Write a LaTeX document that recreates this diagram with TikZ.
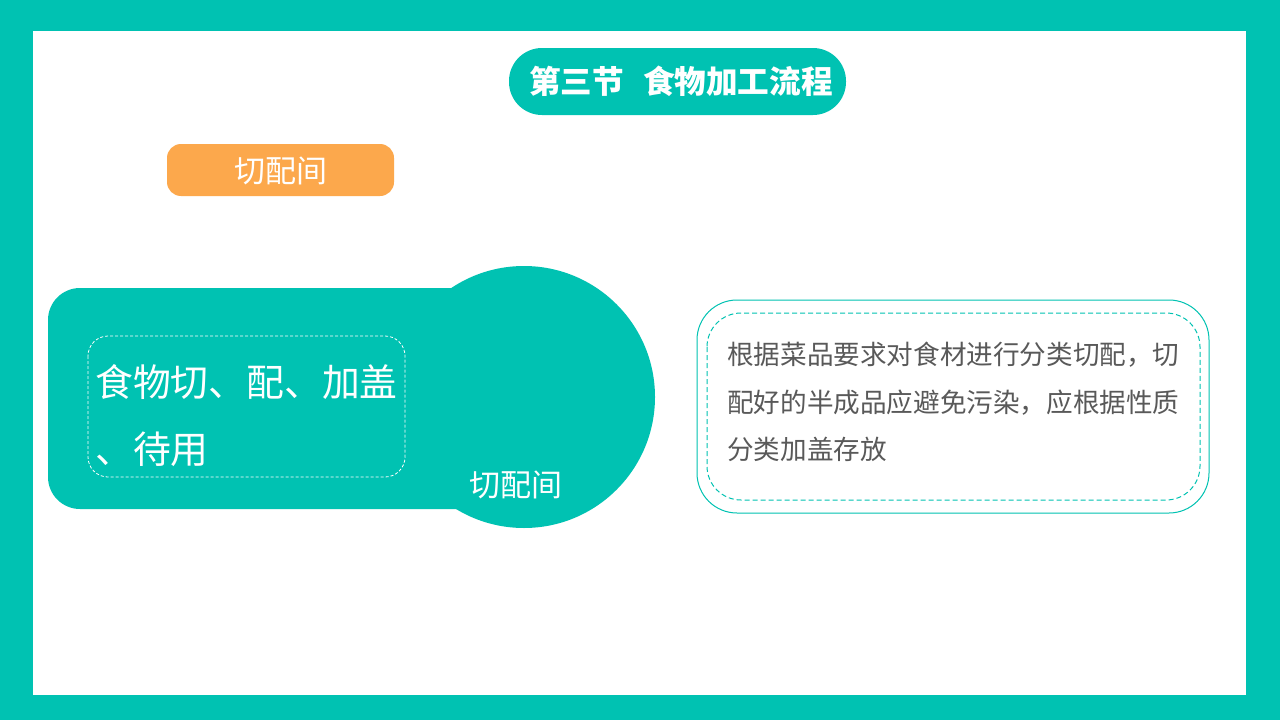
\documentclass[tikz,border=0pt]{standalone}
\usepackage{fontspec}
\setmainfont{Noto Sans CJK SC}
\definecolor{tealmain}{RGB}{0,194,178}
\definecolor{orangetag}{RGB}{252,168,76}
\definecolor{greytext}{RGB}{89,89,89}
\tikzset{
  pillbox/.style={fill=tealmain, rounded corners=33pt},
  tagbox/.style={fill=orangetag, rounded corners=14pt},
  whitetext/.style={text=white, inner sep=0pt},
}
\begin{document}
\begin{tikzpicture}[x=1pt,y=-1pt]
                \useasboundingbox (0,0) rectangle (1280,720);
                
                % Drawing frame
                \fill [tealmain] (0,0) rectangle (1280,720);%
                \fill [white] (33,31) rectangle (1246,695);%
                
                % Drawing title pill
                \fill [pillbox] (509,48) rectangle (846,115);%
                \node [whitetext, font=\fontsize{31.6}{31.6}\selectfont\bfseries] (title) at (681,81.5) {第三节\hspace{0.6em}食物加工流程};%
                
                % Drawing orange tag
                \fill [tagbox] (167,144) rectangle (394,196);%
                \node [whitetext, font=\fontsize{31}{31}\selectfont] (tag) at (281,171) {切配间};%
                
                % Drawing teal block and circle
                \fill [tealmain, rounded corners=32pt] (48,288) rectangle (490,509);%
                \fill [tealmain] (524,397) circle (131);%
                \draw [white, line width=0.8pt, dash pattern=on 3pt off 2pt, rounded corners=20pt] (88,336) rectangle (405,477);%
                \node [whitetext, anchor=west, align=left, font=\fontsize{37.8}{67}\selectfont] (task) at (95,416) {食物切、配、加盖\\、待用};%
                \node [whitetext, font=\fontsize{31}{31}\selectfont] (room) at (516,485) {切配间};%
                
                % Drawing note box
                \draw [tealmain, line width=1pt, rounded corners=40pt] (697,300) rectangle (1209,513);%
                \draw [tealmain, line width=1pt, dash pattern=on 5pt off 3pt, rounded corners=34pt] (707,313) rectangle (1200,500);%
                \node [text=greytext, inner sep=0pt, anchor=west, align=left, font=\fontsize{26.6}{47.5}\selectfont] (note) at (727,402) {根据菜品要求对食材进行分类切配，切\\配好的半成品应避免污染，应根据性质\\分类加盖存放};%
\end{tikzpicture}
\end{document}
